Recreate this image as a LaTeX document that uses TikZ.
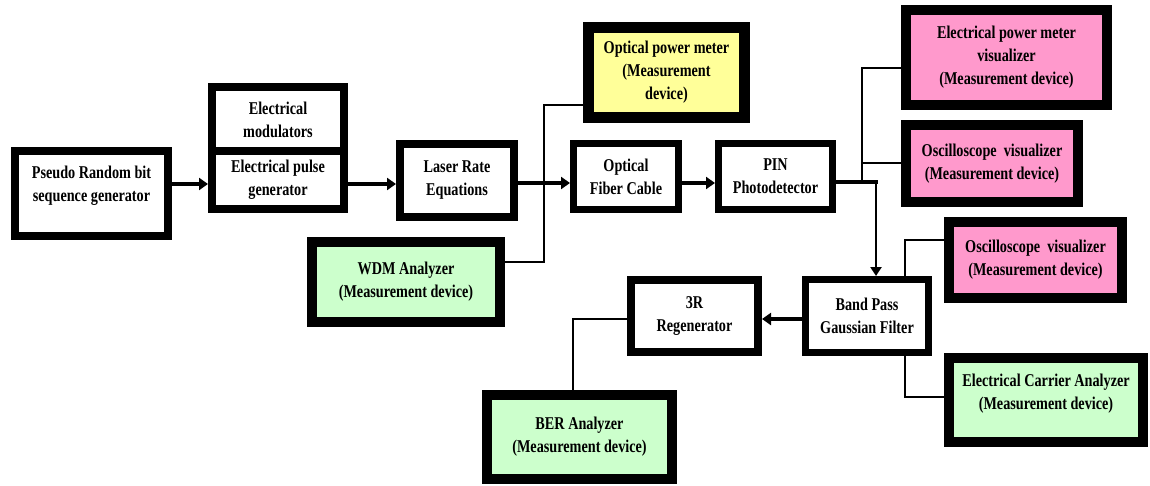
\documentclass[tikz,border=0pt]{standalone}
\usepackage{fontspec}
\setmainfont{Liberation Serif}[FakeStretch=0.79]
\usetikzlibrary{arrows.meta,calc}
\definecolor{ylw}{HTML}{FFFF99}
\definecolor{pnk}{HTML}{FF99CC}
\definecolor{grn}{HTML}{CCFFCC}
\begin{document}
\begin{tikzpicture}[x=1pt,y=-1pt,
  txt/.style={align=center,inner sep=0pt,font=\bfseries\fontsize{18}{23}\selectfont},
  box/.style={draw=black,fill=white,inner sep=0pt,txt},
  arr/.style={line width=3.5pt,-{Triangle[length=9pt,width=12pt]}},
  thinln/.style={line width=1.1pt}]
\useasboundingbox (0,0) rectangle (1150,486);
% main chain
\node[box,line width=8pt,minimum width=153pt,minimum height=85pt,
  label={[txt,yshift=8pt]center:Pseudo Random bit\\sequence generator}] (prbs) at (91.5,193.5) {};
\node[box,line width=8pt,minimum width=132pt,minimum height=65pt] (emtop) at (278,120) {Electrical\\modulators};
\node[box,line width=8pt,minimum width=132pt,minimum height=58pt] (embot) at (278,180) {Electrical pulse\\generator};
\node[box,line width=8pt,minimum width=114pt,minimum height=73pt] (laser) at (457,180.5) {Laser Rate\\Equations};
\node[box,line width=7pt,minimum width=105pt,minimum height=66pt] (fiber) at (626,176.5) {Optical\\Fiber Cable};
\node[box,line width=7pt,minimum width=114pt,minimum height=66pt] (pin) at (775.5,176.5) {PIN\\Photodetector};
\node[box,line width=7pt,minimum width=123pt,minimum height=73pt] (bpf) at (867,316) {Band Pass\\Gaussian Filter};
\node[box,line width=8pt,minimum width=127pt,minimum height=72pt] (regen) at (694.5,316) {3R\\Regenerator};
% measurement devices
\node[box,fill=ylw,line width=11pt,minimum width=156pt,minimum height=90pt] (opm) at (666.5,72.5) {Optical power meter\\(Measurement\\device)};
\node[box,fill=grn,line width=10pt,minimum width=188pt,minimum height=80pt] (wdm) at (406,282) {WDM Analyzer\\(Measurement device)};
\node[box,fill=pnk,line width=10pt,minimum width=201pt,minimum height=95pt] (epm) at (1006.5,57.5) {Electrical power meter\\visualizer\\(Measurement device)};
\node[box,fill=pnk,line width=10pt,minimum width=172pt,minimum height=77pt] (osca) at (992,163.5) {Oscilloscope\ \ visualizer\\(Measurement device)};
\node[box,fill=pnk,line width=10pt,minimum width=173pt,minimum height=76pt] (oscb) at (1035.5,260) {Oscilloscope\ \ visualizer\\(Measurement device)};
\node[box,fill=grn,line width=10pt,minimum width=194pt,minimum height=84pt,
  label={[txt,yshift=6pt]center:Electrical Carrier Analyzer\\(Measurement device)}] (eca) at (1046,400) {};
\node[box,fill=grn,line width=10pt,minimum width=185pt,minimum height=84pt] (ber) at (579.5,437) {BER Analyzer\\(Measurement device)};
% junction points
\coordinate (jw) at (544,105);
\coordinate (jp) at (862,182);
\coordinate (jd) at (876,182);
\coordinate (jr) at (573,319);
% thin connectors
\draw[thinln] (wdm.east |- 0,262) -| (jw) -- (opm.west |- jw);
\draw[thinln] (jp) |- (epm.west |- 0,68);
\draw[thinln] (jp |- 0,163) -- (osca.west |- 0,163);
\draw[thinln] (bpf.north -| 905,0) |- (oscb.west |- 0,240);
\draw[thinln] (bpf.south -| 905,0) |- (eca.west |- 0,397);
\draw[thinln] (regen.west |- jr) -- (jr) -- (ber.north -| jr);
% main arrows
\draw[arr] (prbs.east |- 0,184) -- (embot.west |- 0,184);
\draw[arr] (embot.east |- 0,184) -- (laser.west |- 0,184);
\draw[arr] (laser.east |- 0,183) -- (fiber.west |- 0,183);
\draw[arr] (fiber.east |- 0,183) -- (pin.west |- 0,183);
\draw[line width=3.5pt] (pin.east |- jd) -- ([xshift=1.75pt]jd);
\draw[line width=2.5pt,-{Triangle[length=9pt,width=11pt]}] (jd) -- (bpf.north -| jd);
\draw[arr] (bpf.west |- 0,319) -- (regen.east |- 0,319);
\end{tikzpicture}
\end{document}
